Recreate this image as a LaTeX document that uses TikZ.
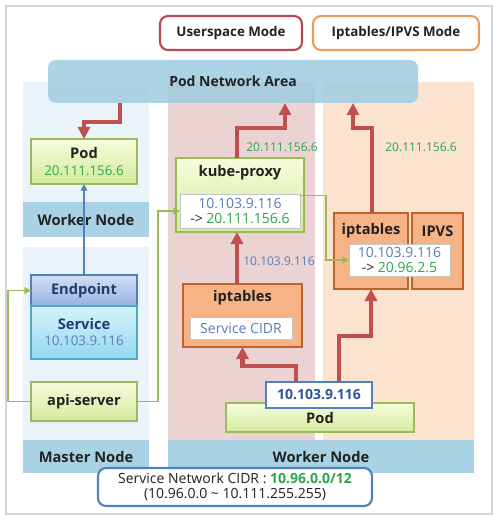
\documentclass[tikz,border=0pt]{standalone}
\usepackage{fontspec}
\setmainfont{Open Sans}
\usetikzlibrary{arrows.meta,shadows}

\definecolor{framegray}{HTML}{D4D4D4}
\definecolor{paleblue}{HTML}{EAF3FA}
\definecolor{bandblue}{HTML}{A9D3E4}
\definecolor{netblue}{HTML}{9FCDE0}
\definecolor{palered}{HTML}{EBD3D3}
\definecolor{palepeach}{HTML}{FCE3D0}
\definecolor{modered}{HTML}{B8474F}
\definecolor{modeorange}{HTML}{EB9D5C}
\definecolor{greentop}{HTML}{F7FCDD}
\definecolor{greenbot}{HTML}{D3EA9C}
\definecolor{boxgreen}{HTML}{9BBB59}
\definecolor{orangefill}{HTML}{F5B386}
\definecolor{orangeline}{HTML}{C0622B}
\definecolor{arrowred}{HTML}{C0504D}
\definecolor{arrowblue}{HTML}{4F81BD}
\definecolor{ipgreen}{HTML}{2BA64E}
\definecolor{ipblue}{HTML}{5A7DB2}
\definecolor{ipnavy}{HTML}{2F5597}
\definecolor{epnavy}{HTML}{1F3D70}
\definecolor{eptop}{HTML}{D3DFF5}
\definecolor{epbot}{HTML}{98B3E0}
\definecolor{svtop}{HTML}{D6F3FC}
\definecolor{svbot}{HTML}{93D7EF}
\definecolor{svline}{HTML}{4BACC6}
\definecolor{textdark}{HTML}{222222}

\newcommand{\headfont}{\fontsize{11}{13}\selectfont\bfseries}
\newcommand{\ipfont}{\fontsize{10.5}{11.5}\selectfont}

\begin{document}
\begin{tikzpicture}[
    x=0.75pt, y=-0.75pt,
    area/.style={
      rectangle,
      inner sep=0pt,
      outer sep=0pt,
      draw=none
    },
    band/.style={
      area,
      fill=bandblue,
      text=textdark,
      font=\headfont
    },
    modebox/.style={
      rectangle,
      rounded corners=6pt,
      line width=1.6pt,
      fill=white,
      inner sep=0pt,
      outer sep=0pt,
      text=textdark,
      font=\fontsize{10}{12}\selectfont\bfseries
    },
    box/.style={
      rectangle,
      inner sep=0pt,
      outer sep=0pt,
      line width=0.8pt,
      align=center,
      text=textdark,
      drop shadow={opacity=0.25, shadow xshift=1pt, shadow yshift=-1pt}
    },
    greenbox/.style={
      box,
      draw=boxgreen,
      top color=greentop,
      bottom color=greenbot,
      font=\fontsize{10}{13}\selectfont
    },
    orangebox/.style={
      box,
      draw=orangeline,
      fill=orangefill
    },
    inbox/.style={
      box,
      draw=gray!45,
      fill=white,
      line width=0.6pt,
      font=\ipfont
    },
    headtext/.style={
      inner sep=0pt,
      text=textdark,
      font=\headfont
    },
    iplabel/.style={
      inner sep=0pt,
      font=\fontsize{9}{10}\selectfont
    },
    redarrow/.style={
      draw=arrowred,
      line width=3.4pt,
      -{Triangle[length=9pt,width=9pt]}
    },
    greenline/.style={
      draw=boxgreen,
      line width=1pt,
      -{Triangle[length=5pt,width=5pt]}
    },
    bluearrow/.style={
      draw=arrowblue,
      line width=1pt,
      -{Triangle[length=5pt,width=5pt]}
    }
  ]

    \useasboundingbox (0,0) rectangle (498,520);
    \draw[framegray, line width=1.2pt] (6,6) rectangle (492,514);

    % Node areas
    \node[area, fill=paleblue, minimum width=94.5pt, minimum height=90pt] (lcolup) at (86,142) {};
    \node[band, minimum width=94.5pt, minimum height=26.25pt] (lworker) at (86,219.5) {Worker Node};
    \node[area, fill=paleblue, minimum width=94.5pt, minimum height=144.75pt] (lcollow) at (86,343.5) {};
    \node[band, minimum width=94.5pt, minimum height=24.75pt] (master) at (86,456.5) {Master Node};
    \node[area, fill=palered, minimum width=110.25pt, minimum height=268.5pt] (midcol) at (241.5,261) {};
    \node[area, fill=palepeach, minimum width=113.25pt, minimum height=268.5pt] (rightcol) at (398.5,261) {};
    \node[band, minimum width=229.5pt, minimum height=24.75pt] (rworker) at (321,456.5) {Worker Node};

    % Pod network and modes
    \node[area, fill=netblue, fill opacity=0.85, text opacity=1, rounded corners=6pt,
      minimum width=277.5pt, minimum height=32.25pt, text=textdark,
      font=\fontsize{10.5}{13}\selectfont\bfseries] (nwa) at (233,81.5) {Pod Network Area};
    \node[modebox, draw=modered, minimum width=106.5pt, minimum height=25.5pt] (usermode) at (231,33) {Userspace Mode};
    \node[modebox, draw=modeorange, minimum width=124.5pt, minimum height=25.5pt] (iptmode) at (396,33) {Iptables/IPVS Mode};

    % Master node side
    \node[greenbox, minimum width=79.5pt, minimum height=33.75pt] (lpod) at (84,161.5)
      {{\headfont Pod}\\{\color{ipgreen}20.111.156.6}};
    \node[box, draw=arrowblue, top color=eptop, bottom color=epbot, minimum width=79.5pt,
      minimum height=23.25pt, text=epnavy, font=\headfont] (endpoint) at (84,290.5) {Endpoint};
    \node[box, draw=svline, top color=svtop, bottom color=svbot, minimum width=79.5pt,
      minimum height=39.75pt, font=\fontsize{10}{12}\selectfont] (service) at (84,332.5)
      {{\headfont\color{epnavy}Service}\\{\color{ipblue}10.103.9.116}};
    \node[greenbox, minimum width=79.5pt, minimum height=29.25pt, font=\headfont] (api) at (84,401.5) {api-server};

    % Userspace mode
    \node[greenbox, minimum width=96pt, minimum height=55.5pt] (kproxy) at (240,195) {};
    \node[headtext] (kproxytxt) at (240,173) {kube-proxy};
    \node[inbox, minimum width=90pt, minimum height=25.5pt] (kpinner) at (240,211)
      {{\color{ipblue}10.103.9.116}\\{-> \color{ipgreen}20.111.156.6}};
    \node[orangebox, minimum width=89.25pt, minimum height=47.25pt] (miptables) at (242.5,315.5) {};
    \node[headtext] (miptxt) at (242.5,298) {iptables};
    \node[inbox, minimum width=76.5pt, minimum height=16.5pt, text=ipblue] (cidrin) at (241,328) {Service CIDR};

    % Iptables/IPVS mode
    \node[orangebox, minimum width=55.5pt, minimum height=57pt] (riptables) at (371,251) {};
    \node[orangebox, minimum width=38.25pt, minimum height=57pt] (ipvs) at (437.5,251) {};
    \node[headtext] (riptxt) at (371,231) {iptables};
    \node[headtext] (ipvstxt) at (437.5,231) {IPVS};
    \node[inbox, minimum width=75.75pt, minimum height=24pt] (rinner) at (399.5,260)
      {{\color{ipblue}10.103.9.116}\\{-> \color{ipgreen}20.96.2.5}};

    % Client pod
    \node[greenbox, minimum width=141pt, minimum height=21.75pt, font=\headfont] (bpod) at (320,417.5) {Pod};
    \node[box, draw=arrowblue, fill=white, line width=1.6pt, minimum width=79.5pt, minimum height=19.5pt,
      text=ipnavy, font=\fontsize{10.5}{12}\selectfont\bfseries] (ipbox) at (319,395) {10.103.9.116};

    % Service CIDR note
    \node[rectangle, draw=arrowblue, line width=1.6pt, rounded corners=6pt, fill=white,
      minimum width=205.5pt, minimum height=28.5pt, align=center, text=textdark,
      font=\fontsize{10.5}{11.5}\selectfont] (cidrbox) at (235,487)
      {Service Network CIDR : {\bfseries\color{ipgreen}10.96.0.0/12}\\(10.96.0.0 \textasciitilde{} 10.111.255.255)};

    % IP labels
    \node[iplabel, text=ipgreen] (lblkp) at (282,147) {20.111.156.6};
    \node[iplabel, text=ipgreen] (lblipt) at (421,147) {20.111.156.6};
    \node[iplabel, text=ipblue] (lblsvc) at (279,261) {10.103.9.116};

    % Arrows
    \draw[redarrow] (120,0 |- nwa.south) -- ++(0,19) -| (lpod.north);
    \draw[bluearrow] (endpoint.north) -- (lpod.south);
    \draw[greenline] (api.west) -- ++(-23,0) |- (endpoint.west);
    \draw[greenline] (api.east) -- ++(21,0) |- (kpinner.west);
    \draw[redarrow] (237,0 |- kproxy.north) -- ++(0,-30) -| (285,0 |- nwa.south);
    \draw[redarrow] (237,0 |- miptables.north) -- (237,0 |- kproxy.south);
    \draw[redarrow] (296,0 |- ipbox.north) -- ++(0,-16) -| (miptables.south);
    \draw[redarrow] (339,0 |- ipbox.north) -- ++(0,-46) -| (riptables.south);
    \draw[redarrow] (372,0 |- riptables.north) -- ++(0,-85) -| (353,0 |- nwa.south);
    \draw[greenline] ([yshift=11.5pt]kpinner.east) -- ++(26,0) |- (rinner.west);

  \end{tikzpicture}
\end{document}
